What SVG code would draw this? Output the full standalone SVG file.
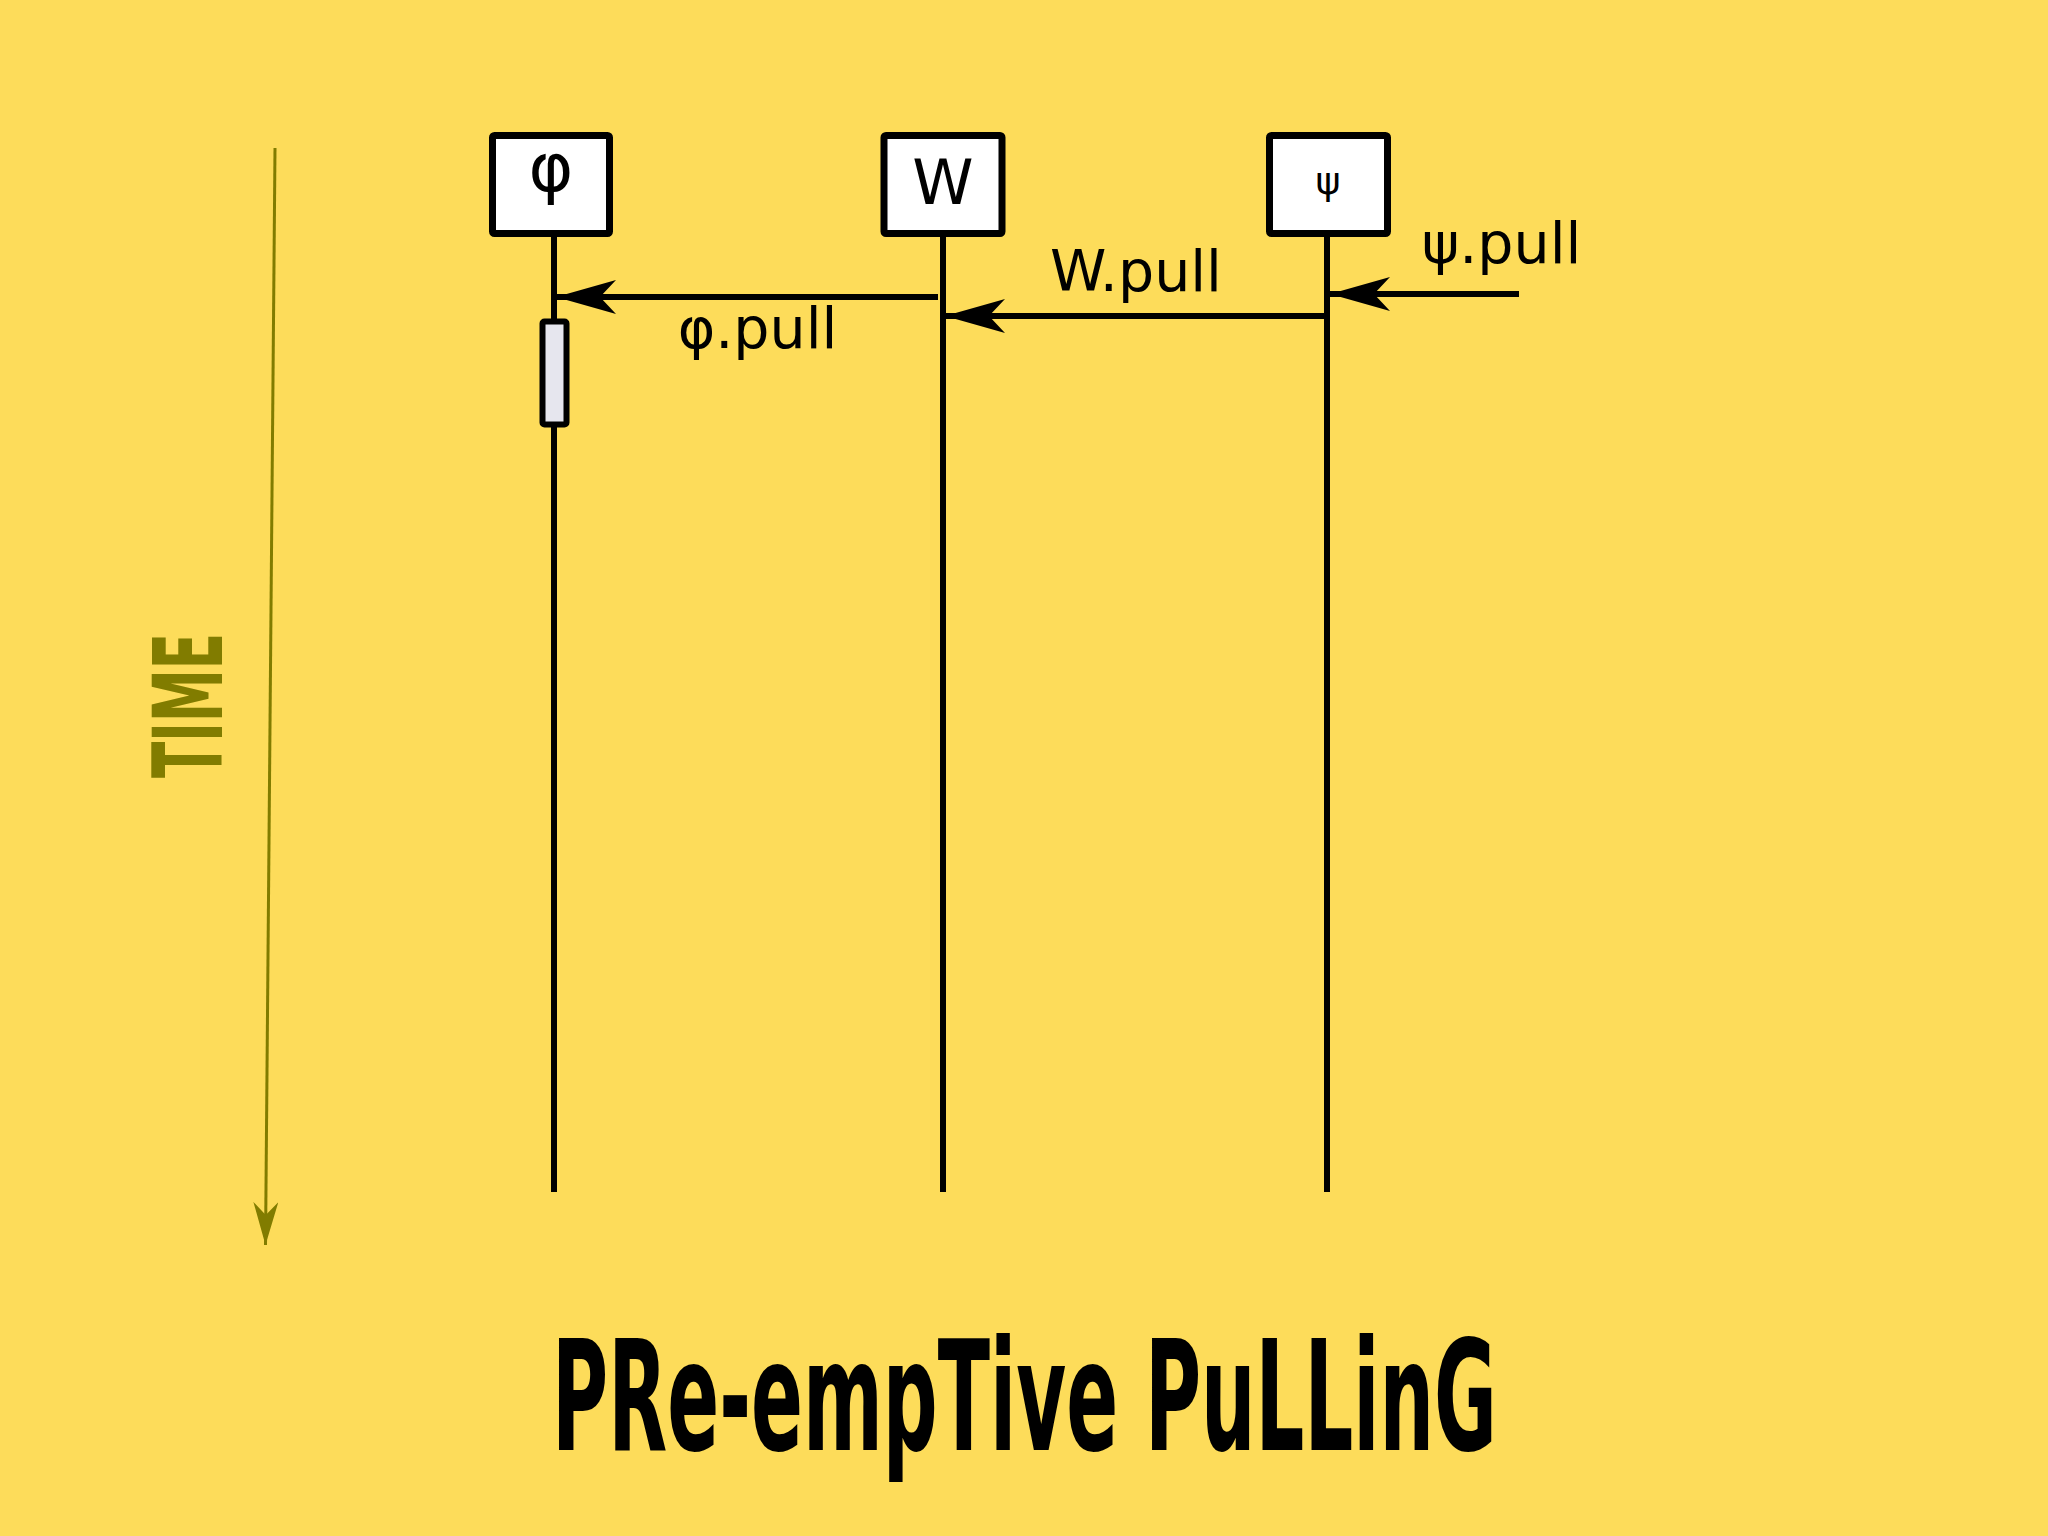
<svg xmlns="http://www.w3.org/2000/svg" width="2048" height="1536" viewBox="0 0 2048 1536">
<style>
.box{fill:#ffffff;stroke:#000;stroke-width:7;stroke-linejoin:round}
.life{stroke:#000;stroke-width:6;fill:none}
.msg{stroke:#000;stroke-width:6;fill:none}
.lbl{font-family:"DejaVu Sans",sans-serif;font-size:57px;fill:#000;text-anchor:middle}
.nlbl{font-family:"DejaVu Sans",sans-serif;fill:#000;text-anchor:middle}
.act{fill:#e6e6ee;stroke:#000;stroke-width:6;stroke-linejoin:round}
</style>
<defs>
<marker id="ah" markerUnits="userSpaceOnUse" markerWidth="62" markerHeight="36" refX="60" refY="17" orient="auto">
<path d="M60,17 L0,0 L16,17 L0,34 Z" fill="#000"/>
</marker>
<marker id="ahTime" markerUnits="userSpaceOnUse" markerWidth="45" markerHeight="27" refX="43" refY="12.5" orient="auto">
<path d="M43,12.5 L0,0 L13,12.5 L0,25 Z" fill="#817c00"/>
</marker>
</defs>
<rect x="0" y="0" width="2048" height="1536" fill="#fddc5a"/>

<g id="time-axis">
<line x1="275" y1="148" x2="265.5" y2="1245" stroke="#817c00" stroke-width="3" marker-end="url(#ahTime)"/>
<text transform="translate(222,705.5) rotate(-90)" text-anchor="middle" font-family="'DejaVu Sans Condensed','DejaVu Sans',sans-serif" font-weight="bold" font-size="97" textLength="145" lengthAdjust="spacingAndGlyphs" fill="#817c00">TIME</text>
</g>

<g id="lifelines">
<line class="life" x1="554" y1="237" x2="554" y2="1192"/>
<line class="life" x1="943" y1="237" x2="943" y2="1192"/>
<line class="life" x1="1327" y1="237" x2="1327" y2="1192"/>
</g>

<g id="node-phi">
<rect class="box" x="492.5" y="135.5" width="117" height="98" rx="2"/>
<text class="nlbl" x="551" y="191" font-size="68">φ</text>
</g>
<g id="node-W">
<rect class="box" x="884" y="135.5" width="118" height="98" rx="2"/>
<text class="nlbl" x="943" y="204" font-size="62">W</text>
</g>
<g id="node-psi">
<rect class="box" x="1269.5" y="135.5" width="118" height="98" rx="2"/>
<text class="nlbl" x="1328" y="194" font-size="38">ψ</text>
</g>
<g id="activation-phi">
<rect class="act" x="542.5" y="321.5" width="24" height="103" rx="2"/>
</g>

<g id="connectors">
<line class="msg" x1="938" y1="297" x2="556" y2="297" marker-end="url(#ah)"/>
<line class="msg" x1="1325" y1="316" x2="945" y2="316" marker-end="url(#ah)"/>
<line class="msg" x1="1519" y1="294" x2="1330" y2="294" marker-end="url(#ah)"/>
<text class="lbl" x="757.5" y="348">φ.pull</text>
<text class="lbl" x="1136" y="291">W.pull</text>
<text class="lbl" x="1501.5" y="263">ψ.pull</text>
</g>

<g id="title">
<text transform="translate(1024.5,1450) scale(0.6,1)" text-anchor="middle" font-family="'DejaVu Sans Condensed','DejaVu Sans',sans-serif" font-weight="bold" font-size="153" textLength="1575" lengthAdjust="spacingAndGlyphs" fill="#000">PRe-empTive PuLLinG</text>
</g>
</svg>
